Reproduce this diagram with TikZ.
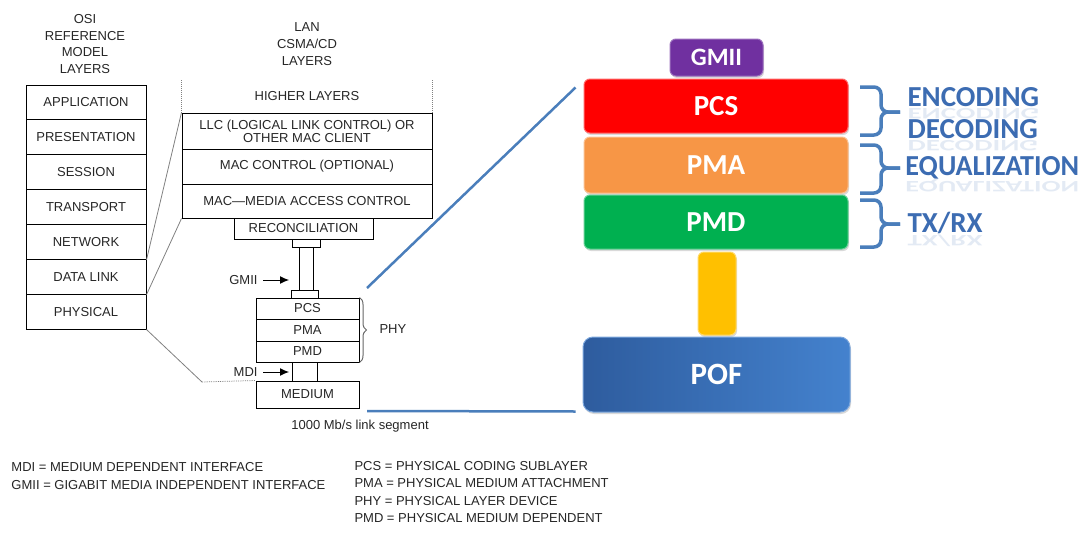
\documentclass[tikz,border=0pt]{standalone}
\usepackage{fontspec}
\setmainfont{Liberation Sans}
\newfontfamily\calibri{Carlito}
\usetikzlibrary{decorations.pathreplacing, shadows, arrows.meta}
\definecolor{pcsred}{RGB}{255,0,0}
\definecolor{pmaorange}{RGB}{247,150,70}
\definecolor{pmdgreen}{RGB}{0,176,80}
\definecolor{gmiipurple}{RGB}{112,48,160}
\definecolor{linkyellow}{RGB}{255,192,0}
\definecolor{pofdark}{RGB}{46,92,158}
\definecolor{poflight}{RGB}{68,130,206}
\definecolor{zoomblue}{RGB}{74,126,187}
\definecolor{wordart}{RGB}{60,108,178}
\newcommand{\lanfont}{\fontsize{13}{13}\selectfont}
\begin{document}
\begin{tikzpicture}[x=1pt, y=-1pt, line width=1pt,
    osibox/.style={draw, minimum width=120pt, minimum height=34.86pt, inner sep=0pt, font=\lanfont, text=black!85},
    lanbox/.style={draw, minimum width=250pt, align=center, inner sep=0pt, font=\lanfont, text=black!85},
    phybox/.style={draw, minimum width=103pt, inner sep=0pt, font=\lanfont, text=black!85},
    stub/.style={draw, minimum width=28pt, minimum height=8pt, inner sep=0pt},
    lbl/.style={font=\lanfont, text=black!85, inner sep=0pt},
    ptr/.style={-{Latex[length=9pt, width=8pt]}, shorten <=5pt},
    zoomline/.style={gray, line width=0.8pt},
    bigbox/.style={rounded corners=6pt, minimum width=264pt, inner sep=0pt, text=white,
      font=\calibri\bfseries\fontsize{29}{29}\selectfont,
      drop shadow={opacity=0.3, shadow xshift=1pt, shadow yshift=-2pt}},
    bigbrace/.style={draw=zoomblue, line width=3.5pt, rounded corners=7pt},
    wordlbl/.style={anchor=west, inner sep=0pt, text=wordart, font=\calibri\bfseries\fontsize{29}{29}\selectfont},
    mirror/.style={wordlbl, anchor=south west, yscale=-0.55, opacity=0.14}]
  \useasboundingbox (0,0) rectangle (1085,533);

  \node [lbl, align=center, font=\fontsize{13}{16.7}\selectfont] (osititle) at (85,44) {OSI\\REFERENCE\\MODEL\\LAYERS};
  \foreach \layer [count=\i] in {APPLICATION, PRESENTATION, SESSION, TRANSPORT, NETWORK, DATA LINK, PHYSICAL}
    \node [osibox] (osi\i) at (86, {85+34.86*(\i-0.5)}) {\layer};

  \node [lbl, align=center, font=\fontsize{13}{17}\selectfont] (lantitle) at (307,44) {LAN\\CSMA/CD\\LAYERS};
  \node [lbl] (higher) at (307,96) {HIGHER LAYERS};
  \node [lanbox, minimum height=36pt] (llc) at (307,131) {LLC (LOGICAL LINK CONTROL) OR\\OTHER MAC CLIENT};
  \node [lanbox, minimum height=35pt] (macctl) at (307,166.5) {MAC CONTROL (OPTIONAL)};
  \node [lanbox, minimum height=34pt] (mac) at (307,201) {MAC—MEDIA ACCESS CONTROL};
  \draw [gray, densely dotted] (llc.north west) -- ++(0,-33);
  \draw [gray, densely dotted] (llc.north east) -- ++(0,-33);
  \node [phybox, minimum width=139pt, minimum height=21pt] (recon) at (303.5,228.5) {RECONCILIATION};

  \node [stub] (gtop) at (306,243) {};
  \node [stub, minimum width=27pt] (gbot) at (305,294) {};
  \draw ([xshift=-7pt]gtop.south) -- ([xshift=-6pt]gbot.north);
  \draw ([xshift=7pt]gtop.south) -- ([xshift=8pt]gbot.north);

  \node [phybox, minimum height=21pt] (pcs) at (307.5,308.5) {PCS};
  \node [phybox, minimum height=22pt] (pma) at (307.5,330) {PMA};
  \node [phybox, minimum height=21pt] (pmd) at (307.5,351.5) {PMD};
  \node [phybox, minimum height=27pt] (medium) at (307.5,394.5) {MEDIUM};
  \draw ([xshift=-15.5pt]pmd.south) -- ([xshift=-15.5pt]medium.north);
  \draw ([xshift=9.5pt]pmd.south) -- ([xshift=9.5pt]medium.north);
  \draw [black!60, line width=1pt, decorate, decoration={brace, amplitude=7pt}] (pcs.north east) -- (pmd.south east);
  \node [lbl, anchor=west] (phylbl) at (379,329.5) {PHY};

  \node [lbl, anchor=east] (gmiilbl) at (258,280) {GMII};
  \coordinate (gmiitip) at (289,280);
  \draw [ptr] (gmiilbl.east) -- (gmiitip);
  \node [lbl, anchor=east] (mdilbl) at (258,372) {MDI};
  \coordinate (mditip) at (289,372);
  \draw [ptr] (mdilbl.east) -- (mditip);
  \node [lbl] (seglbl) at (360,426) {1000 Mb/s link segment};

  \coordinate (medcorner) at (202,382);
  \draw [zoomline] (osi5.south east) -- (llc.north west);
  \draw [zoomline] (osi6.south east) -- (mac.south west);
  \draw [zoomline] (osi7.south east) -- (medcorner);
  \draw [zoomline, densely dotted] (medcorner) -- (medium.north west);

  \node [lbl, anchor=west, align=left, font=\fontsize{13}{18}\selectfont] (legleft) at (11,476) {MDI = MEDIUM DEPENDENT INTERFACE\\GMII = GIGABIT MEDIA INDEPENDENT INTERFACE};
  \node [lbl, anchor=west, align=left, font=\fontsize{13}{17.4}\selectfont] (legright) at (354,492) {PCS = PHYSICAL CODING SUBLAYER\\PMA = PHYSICAL MEDIUM ATTACHMENT\\PHY = PHYSICAL LAYER DEVICE\\PMD = PHYSICAL MEDIUM DEPENDENT};

  \node [bigbox, fill=gmiipurple, draw=gmiipurple!70!white, minimum width=93pt, minimum height=37pt, font=\calibri\bfseries\fontsize{25}{25}\selectfont] (gmiibig) at (716.5,57.5) {GMII};
  \node [bigbox, fill=pcsred, draw=pcsred!60!white, minimum height=54pt] (pcsbig) at (716,106) {PCS};
  \node [bigbox, fill=pmaorange, draw=pmaorange!60!white, minimum height=56pt] (pmabig) at (716,165) {PMA};
  \node [bigbox, fill=pmdgreen, draw=pmdgreen!60!white, minimum height=54pt] (pmdbig) at (716,222) {PMD};
  \node [bigbox, fill=linkyellow, draw=linkyellow!60!white, minimum width=38pt, minimum height=83pt] (fiber) at (717,293.5) {};
  \node [bigbox, left color=pofdark, right color=poflight, draw=poflight!70!white, rounded corners=10pt, minimum width=267pt, minimum height=75pt, font=\calibri\bfseries\fontsize{31}{31}\selectfont] (pof) at (716.5,374.5) {POF};

  \coordinate (zoomtop) at (367,288);
  \coordinate (zoombot) at (367,411);
  \draw [zoomblue, line width=2.5pt] (zoomtop) -- ([xshift=-8pt, yshift=-9pt]pcsbig.north west);
  \draw [zoomblue, line width=2.5pt] (zoombot) -- ([xshift=-7pt, yshift=1pt]pof.south west);

  \draw [bigbrace] (860,87) -- (881,87) -- (881,112) -- (900,112);
  \draw [bigbrace] (860,135) -- (881,135) -- (881,112) -- (900,112);
  \draw [bigbrace] (860,145) -- (881,145) -- (881,168) -- (900,168);
  \draw [bigbrace] (860,193) -- (881,193) -- (881,168) -- (900,168);
  \draw [bigbrace] (860,200) -- (881,200) -- (881,224) -- (900,224);
  \draw [bigbrace] (860,247) -- (881,247) -- (881,224) -- (900,224);
  \node [mirror] (encodemirror) at (907,108) {ENCODING};
  \node [mirror] (decodemirror) at (907,140) {DECODING};
  \node [mirror, xscale=0.97] (equalmirror) at (905,179) {EQUALIZATION};
  \node [mirror] (txrxmirror) at (907,234) {TX/RX};
  \node [wordlbl] (encode) at (907,97) {ENCODING};
  \node [wordlbl] (decode) at (907,129) {DECODING};
  \node [wordlbl, xscale=0.97] (equal) at (905,168) {EQUALIZATION};
  \node [wordlbl] (txrx) at (907,223) {TX/RX};
\end{tikzpicture}
\end{document}
